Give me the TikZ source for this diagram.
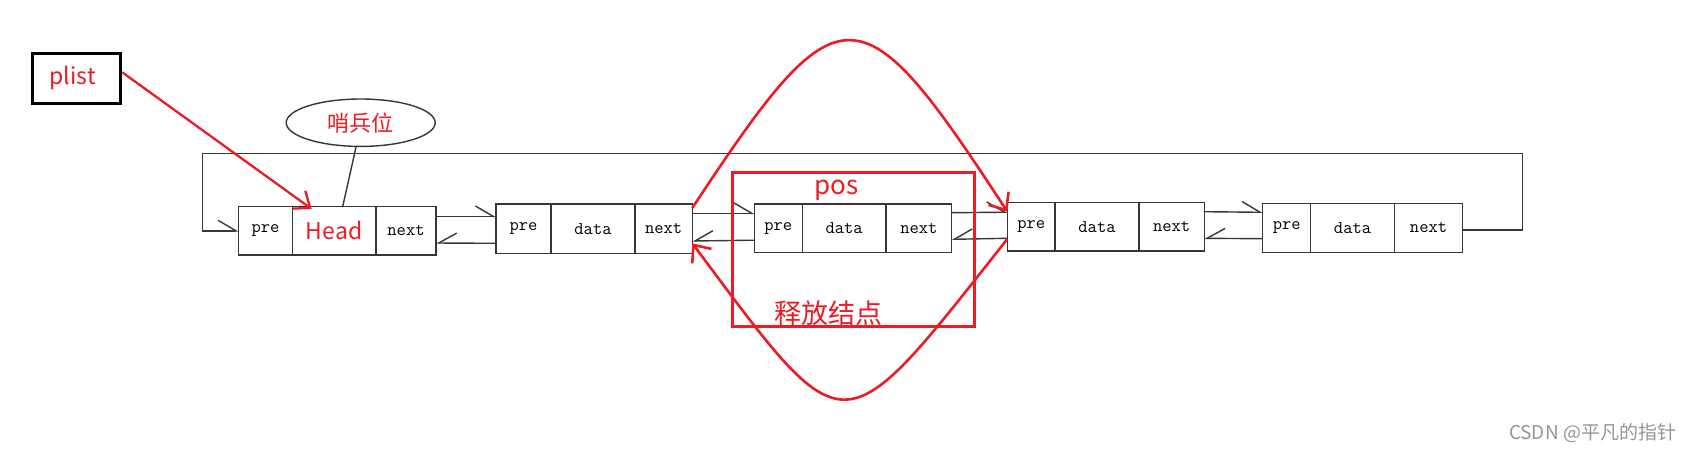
\documentclass[tikz,border=0pt]{standalone}
\usepackage{fontspec}
\newfontfamily\cjk{Noto Sans CJK SC}
\usetikzlibrary{arrows.meta,shapes.geometric,calc}
\definecolor{pred}{RGB}{237,28,36}
\definecolor{linec}{RGB}{55,55,55}
\definecolor{wm}{RGB}{150,150,150}
\begin{document}
\begin{tikzpicture}[x=1pt,y=-1pt,
  cell/.style={draw=linec, line width=1.4pt, anchor=north west, inner sep=0pt, outer sep=0pt,
    font=\fontsize{18}{18}\ttfamily\selectfont},
  conn/.style={draw=linec, line width=1.4pt},
  tipr/.style={-{Straight Barb[harpoon, length=18pt, width=21pt]}},
  tipl/.style={-{Straight Barb[harpoon, swap, length=18pt, width=20pt]}},
  redtext/.style={text=pred, inner sep=0pt},
  redarrow/.style={draw=pred, line width=2.3pt, -{Straight Barb[length=14pt, width=22pt]}},
  redcurve/.style={draw=pred, line width=2.6pt, -{Straight Barb[length=14pt, width=24pt]}}
]
\useasboundingbox (0,0) rectangle (1693,451);
\fill[white] (0,0) rectangle (1693,451);

% list node 1 (head)
\node[cell, minimum width=53.6pt, minimum height=48.3pt] (n1p) at (238.7,206.7) {pre};
\node[cell, minimum width=83.7pt, minimum height=48.3pt, text=pred, font=\cjk\fontsize{23}{23}\selectfont] (n1h) at (292.3,206.7) {Head};
\node[cell, minimum width=60pt, minimum height=48.3pt] (n1n) at (376,206.7) {next};
% list node 2
\node[cell, minimum width=55pt, minimum height=49.3pt] (n2p) at (496,204) {pre};
\node[cell, minimum width=84pt, minimum height=49.3pt] (n2d) at (551,204) {data};
\node[cell, minimum width=57.3pt, minimum height=49.3pt] (n2n) at (635,204) {next};
% list node 3
\node[cell, minimum width=48pt, minimum height=48.7pt] (n3p) at (754.3,204) {pre};
\node[cell, minimum width=83.7pt, minimum height=48.7pt] (n3d) at (802.3,204) {data};
\node[cell, minimum width=65.7pt, minimum height=48.7pt] (n3n) at (886,204) {next};
% list node 4
\node[cell, minimum width=47.7pt, minimum height=48.3pt] (n4p) at (1007.3,202.7) {pre};
\node[cell, minimum width=84pt, minimum height=48.3pt] (n4d) at (1055,202.7) {data};
\node[cell, minimum width=65.3pt, minimum height=48.3pt] (n4n) at (1139,202.7) {next};
% list node 5
\node[cell, minimum width=48pt, minimum height=49.4pt] (n5p) at (1262.7,203.3) {pre};
\node[cell, minimum width=83.6pt, minimum height=49.4pt] (n5d) at (1310.7,203.3) {data};
\node[cell, minimum width=68.4pt, minimum height=49.4pt] (n5n) at (1394.3,203.3) {next};

% links between nodes
\draw[conn,tipr] ([yshift=-9.8pt]n1n.north east) -- ([yshift=-12.5pt]n2p.north west);
\draw[conn,tipl] ([yshift=10pt]n2p.south west) -- ([yshift=12pt]n1n.south east);
\draw[conn,tipr] ([yshift=-9.3pt]n2n.north east) -- ([yshift=-9.3pt]n3p.north west);
\draw[conn,tipl] ([yshift=12.5pt]n3p.south west) -- ([yshift=12.3pt]n2n.south east);
\draw[conn,tipr] ([yshift=-8.7pt]n3n.north east) -- ([yshift=-9.5pt]n4p.north west);
\draw[conn,tipl] ([yshift=12.7pt]n4p.south west) -- ([yshift=13.4pt]n3n.south east);
\draw[conn,tipr] ([yshift=-9pt]n4n.north east) -- ([yshift=-9pt]n5p.north west);
\draw[conn,tipl] ([yshift=14pt]n5p.south west) -- ([yshift=12.7pt]n4n.south east);

% circular link
\coordinate (lr) at (1522.7,153.5);
\coordinate (ll) at (202.3,153.5);
\draw[conn,tipr] ([yshift=-2pt]n5n.east) -| (lr) -- (ll) |- (n1p.west);

% sentinel
\node[ellipse, draw=linec, line width=1.4pt, minimum width=149pt, minimum height=47.4pt, inner sep=0pt,
  text=pred, font=\cjk\fontsize{22}{22}\selectfont] (sent) at (360.7,122.7) {哨兵位};
\draw[conn] ([xshift=-4.7pt]sent.south) -- ([xshift=8.5pt]n1h.north);

% plist
\node[draw=black, line width=3.5pt, minimum width=88.1pt, minimum height=49.8pt, inner sep=0pt] (plist) at (76.5,78.35) {};
\node[redtext, font=\cjk\fontsize{23}{23}\selectfont] (plistlbl) at (72.7,78.3) {plist};
\draw[redarrow] ([yshift=6pt]plist.east) -- ([xshift=19.4pt,yshift=-2.3pt]n1h.north west);

% pos frame
\node[draw=pred, line width=3pt, minimum width=242.3pt, minimum height=154.6pt, inner sep=0pt] (posbox) at (853.35,249.5) {};
\node[redtext, font=\cjk\fontsize{26}{26}\selectfont] (poslbl) at (836.7,190) {pos};
\node[redtext, font=\cjk\fontsize{27}{27}\selectfont] (freelbl) at (828.3,313.3) {释放结点};

% red curves
\draw[redcurve] ([yshift=-4pt]n2n.north east) .. controls (840,-16) and (859,-16) .. ([yshift=-9pt]n4p.north west);
\draw[redcurve] ([yshift=12pt]n4p.south west) .. controls (839,452) and (848,452) .. ([yshift=10pt]n2n.south east);

% watermark
\node[text=wm, inner sep=0pt, font=\cjk\fontsize{19}{19}\selectfont] (wmk) at (1592.5,433) {CSDN @平凡的指针};
\end{tikzpicture}
\end{document}
